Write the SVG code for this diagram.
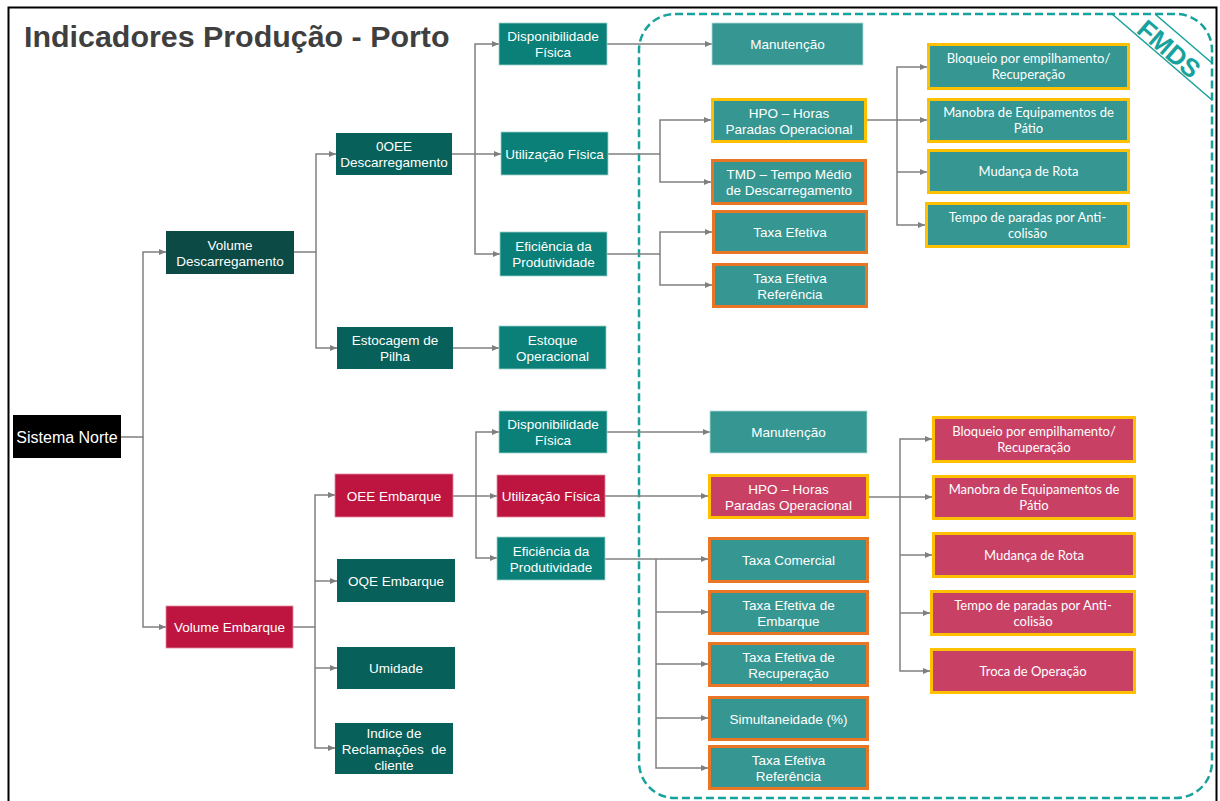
<svg xmlns="http://www.w3.org/2000/svg" width="1220" height="801" viewBox="0 0 1220 801">
<defs>
<marker id="arr" markerUnits="userSpaceOnUse" markerWidth="8" markerHeight="7" refX="7" refY="3.5" orient="auto">
<path d="M0,0.5 L7,3.5 L0,6.5 z" fill="#7f7f7f"/>
</marker>
<style>
.t{font-family:"Liberation Sans",Arial,sans-serif;font-size:13.5px;fill:#ffffff;text-anchor:middle}
.big{font-size:16px}
.c{font-family:Lato,"Open Sans",sans-serif;font-size:13px;fill:#ffffff;text-anchor:middle}
.k{fill:#000000}
.d1{fill:#0c4a45}
.d2{fill:#07605a}
.l3{fill:#0a8078;stroke:#9fcfca;stroke-width:0.8}
.l4{fill:#359692;stroke:#b5dbd8;stroke-width:0.8}
.r{fill:#be1540;stroke:#e08aa0;stroke-width:0.8}
.rl{fill:#c94065}
.y{stroke:#ffc000;stroke-width:3}
.o{stroke:#e97525;stroke-width:3}
.cn{fill:none;stroke:#808080;stroke-width:1.5}
</style>
</defs>
<rect width="1220" height="801" fill="#ffffff"/>
<path d="M8.5,810 V7.5 H1216.5 V810" fill="none" stroke="#000" stroke-width="2"/>
<text x="24" y="47" font-family="Liberation Sans,Arial,sans-serif" font-size="30.4" font-weight="bold" fill="#3f3f3f">Indicadores Produção - Porto</text>

<g id="fmds">
<rect x="639" y="14" width="573" height="784" rx="36" fill="none" stroke="#17a29d" stroke-width="2.5" stroke-dasharray="8,4"/>
<path d="M1112,14 L1212,100 M1155,14 L1212,63" stroke="#17a29d" stroke-width="1.5" fill="none"/>
<text transform="translate(1169,49) rotate(41)" font-family="Liberation Sans,Arial,sans-serif" font-size="26" font-weight="bold" fill="#17a29d" text-anchor="middle" dominant-baseline="central">FMDS</text>
</g>

<g id="connectors" class="cn">
<path d="M121,437 H143 V252 H166" marker-end="url(#arr)"/>
<path d="M143,437 V627 H166" marker-end="url(#arr)"/>
<path d="M294,252 H316 V154 H336" marker-end="url(#arr)"/>
<path d="M316,252 V348 H337" marker-end="url(#arr)"/>
<path d="M452,154 H501" marker-end="url(#arr)"/>
<path d="M475,154 V44 H499" marker-end="url(#arr)"/>
<path d="M475,154 V254 H500" marker-end="url(#arr)"/>
<path d="M453,348 H499" marker-end="url(#arr)"/>
<path d="M607,44 H712" marker-end="url(#arr)"/>
<path d="M608,154 H660 V120 H711" marker-end="url(#arr)"/>
<path d="M660,154 V182 H711" marker-end="url(#arr)"/>
<path d="M607,254 H660 V232 H712" marker-end="url(#arr)"/>
<path d="M660,254 V285 H712" marker-end="url(#arr)"/>
<path d="M867,120 H927" marker-end="url(#arr)"/>
<path d="M897,120 V67 H927" marker-end="url(#arr)"/>
<path d="M897,120 V225 H925" marker-end="url(#arr)"/>
<path d="M897,172 H927" marker-end="url(#arr)"/>
<path d="M293,627 H315 V495 H335" marker-end="url(#arr)"/>
<path d="M315,627 V748 H335" marker-end="url(#arr)"/>
<path d="M315,581 H337" marker-end="url(#arr)"/>
<path d="M315,668 H337" marker-end="url(#arr)"/>
<path d="M453,496 H497" marker-end="url(#arr)"/>
<path d="M476,496 V432 H499" marker-end="url(#arr)"/>
<path d="M476,496 V558 H497" marker-end="url(#arr)"/>
<path d="M607,432 H710" marker-end="url(#arr)"/>
<path d="M605,496 H708" marker-end="url(#arr)"/>
<path d="M605,559 H708" marker-end="url(#arr)"/>
<path d="M656,559 V768 H708" marker-end="url(#arr)"/>
<path d="M656,612 H708" marker-end="url(#arr)"/>
<path d="M656,664 H708" marker-end="url(#arr)"/>
<path d="M656,718 H708" marker-end="url(#arr)"/>
<path d="M869,497 H932" marker-end="url(#arr)"/>
<path d="M900,497 V439 H932" marker-end="url(#arr)"/>
<path d="M900,497 V671 H930" marker-end="url(#arr)"/>
<path d="M900,555 H932" marker-end="url(#arr)"/>
<path d="M900,613 H930" marker-end="url(#arr)"/>
</g>

<g id="n_sistema"><rect class="k" x="13" y="415" width="108" height="43"/><text class="t big" x="67" y="442.5">Sistema Norte</text></g>
<g id="n_voldesc"><rect class="d1" x="166" y="231" width="128" height="43"/><text class="t" x="230" y="249.5">Volume</text><text class="t" x="230" y="265.5">Descarregamento</text></g>
<g id="n_volemb"><rect class="r" x="166" y="606" width="127" height="42"/><text class="t" x="229.5" y="632">Volume Embarque</text></g>

<g id="n_oee_desc"><rect class="d2" x="336" y="133" width="116" height="42"/><text class="t" x="394" y="151">0OEE</text><text class="t" x="394" y="167">Descarregamento</text></g>
<g id="n_estoc"><rect class="d2" x="337" y="327" width="116" height="42"/><text class="t" x="395" y="345">Estocagem de</text><text class="t" x="395" y="361">Pilha</text></g>

<g id="n_disp1"><rect class="l3" x="499" y="23" width="108" height="42"/><text class="t" x="553" y="41">Disponibilidade</text><text class="t" x="553" y="57">Física</text></g>
<g id="n_util1"><rect class="l3" x="501" y="132" width="107" height="43"/><text class="t" x="554.5" y="158.5">Utilização Física</text></g>
<g id="n_efic1"><rect class="l3" x="500" y="232" width="107" height="44"/><text class="t" x="553.5" y="251">Eficiência da</text><text class="t" x="553.5" y="267">Produtividade</text></g>
<g id="n_estoque"><rect class="l3" x="499" y="326" width="107" height="43"/><text class="t" x="552.5" y="344.5">Estoque</text><text class="t" x="552.5" y="360.5">Operacional</text></g>

<g id="n_manut1"><rect class="l4" x="712" y="23" width="151" height="42"/><text class="t" x="787.5" y="49">Manutenção</text></g>
<g id="n_hpo1"><rect class="l4 y" x="712.5" y="99.5" width="153" height="42"/><text class="t" x="789" y="117.5">HPO – Horas</text><text class="t" x="789" y="133.5">Paradas Operacional</text></g>
<g id="n_tmd"><rect class="l4 o" x="712.5" y="160.5" width="153" height="43"/><text class="t" x="789" y="179">TMD – Tempo Médio</text><text class="t" x="789" y="195">de Descarregamento</text></g>
<g id="n_taxaef1"><rect class="l4 o" x="713.5" y="211.5" width="153" height="41"/><text class="t" x="790" y="237">Taxa Efetiva</text></g>
<g id="n_taxaref1"><rect class="l4 o" x="713.5" y="264.5" width="153" height="42"/><text class="t" x="790" y="282.5">Taxa Efetiva</text><text class="t" x="790" y="298.5">Referência</text></g>

<g id="n_bloq1"><rect class="l4 y" x="928.5" y="44.5" width="200" height="44"/><text class="c" x="1028.5" y="63">Bloqueio por empilhamento/</text><text class="c" x="1028.5" y="79">Recuperação</text></g>
<g id="n_manobra1"><rect class="l4 y" x="928.5" y="99.5" width="200" height="42"/><text class="c" x="1028.5" y="117">Manobra de Equipamentos de</text><text class="c" x="1028.5" y="133">Pátio</text></g>
<g id="n_mudanca1"><rect class="l4 y" x="928.5" y="150.5" width="200" height="42"/><text class="c" x="1028.5" y="176">Mudança de Rota</text></g>
<g id="n_tempo1"><rect class="l4 y" x="926.5" y="203.5" width="202" height="43"/><text class="c" x="1027.5" y="221.5">Tempo de paradas por Anti-</text><text class="c" x="1027.5" y="237.5">colisão</text></g>

<g id="n_oee_emb"><rect class="r" x="335" y="474" width="118" height="43"/><text class="t" x="394" y="500.5">OEE Embarque</text></g>
<g id="n_oqe"><rect class="d2" x="337" y="559" width="118" height="43"/><text class="t" x="396" y="585.5">OQE Embarque</text></g>
<g id="n_umidade"><rect class="d2" x="337" y="647" width="118" height="42"/><text class="t" x="396" y="673">Umidade</text></g>
<g id="n_indice"><rect class="d2" x="335" y="723" width="118" height="51"/><text class="t" x="394" y="737.5">Indice de</text><text class="t" x="394" y="753.5" xml:space="preserve">Reclamações  de</text><text class="t" x="394" y="769.5">cliente</text></g>

<g id="n_disp2"><rect class="l3" x="499" y="411" width="108" height="42"/><text class="t" x="553" y="429">Disponibilidade</text><text class="t" x="553" y="445">Física</text></g>
<g id="n_util2"><rect class="r" x="497" y="475" width="108" height="42"/><text class="t" x="551" y="501">Utilização Física</text></g>
<g id="n_efic2"><rect class="l3" x="497" y="537" width="108" height="43"/><text class="t" x="551" y="555.5">Eficiência da</text><text class="t" x="551" y="571.5">Produtividade</text></g>

<g id="n_manut2"><rect class="l4" x="710" y="411" width="157" height="42"/><text class="t" x="788.5" y="437">Manutenção</text></g>
<g id="n_hpo2"><rect class="rl y" x="709.5" y="475.5" width="158" height="42"/><text class="t" x="788.5" y="493.5">HPO – Horas</text><text class="t" x="788.5" y="509.5">Paradas Operacional</text></g>
<g id="n_taxacom"><rect class="l4 o" x="709.5" y="538.5" width="158" height="43"/><text class="t" x="788.5" y="565">Taxa Comercial</text></g>
<g id="n_taxaemb"><rect class="l4 o" x="709.5" y="591.5" width="158" height="42"/><text class="t" x="788.5" y="609.5">Taxa Efetiva de</text><text class="t" x="788.5" y="625.5">Embarque</text></g>
<g id="n_taxarec"><rect class="l4 o" x="709.5" y="643.5" width="158" height="42"/><text class="t" x="788.5" y="661.5">Taxa Efetiva de</text><text class="t" x="788.5" y="677.5">Recuperação</text></g>
<g id="n_simul"><rect class="l4 o" x="709.5" y="697.5" width="158" height="42"/><text class="t" x="788.5" y="723.5">Simultaneidade (%)</text></g>
<g id="n_taxaref2"><rect class="l4 o" x="709.5" y="746.5" width="158" height="42"/><text class="t" x="788.5" y="764.5">Taxa Efetiva</text><text class="t" x="788.5" y="780.5">Referência</text></g>

<g id="n_bloq2"><rect class="rl y" x="933.5" y="417.5" width="201" height="44"/><text class="c" x="1034" y="436">Bloqueio por empilhamento/</text><text class="c" x="1034" y="452">Recuperação</text></g>
<g id="n_manobra2"><rect class="rl y" x="933.5" y="476.5" width="201" height="42"/><text class="c" x="1034" y="494">Manobra de Equipamentos de</text><text class="c" x="1034" y="510">Pátio</text></g>
<g id="n_mudanca2"><rect class="rl y" x="933.5" y="533.5" width="201" height="43"/><text class="c" x="1034" y="559.5">Mudança de Rota</text></g>
<g id="n_tempo2"><rect class="rl y" x="931.5" y="591.5" width="203" height="43"/><text class="c" x="1033" y="609.5">Tempo de paradas por Anti-</text><text class="c" x="1033" y="625.5">colisão</text></g>
<g id="n_troca"><rect class="rl y" x="931.5" y="649.5" width="203" height="43"/><text class="c" x="1033" y="675.5">Troca de Operação</text></g>
</svg>
